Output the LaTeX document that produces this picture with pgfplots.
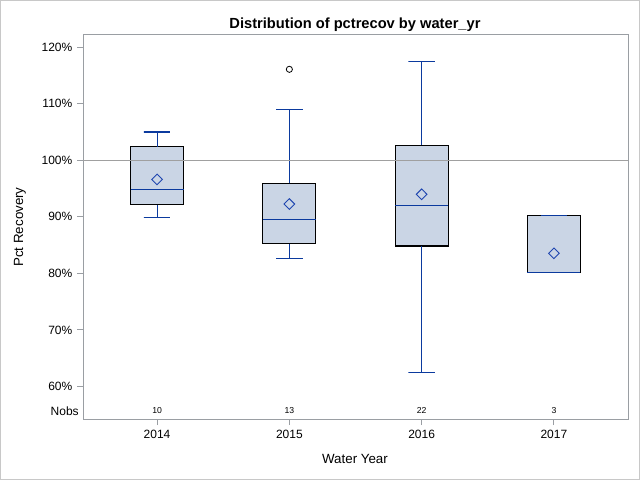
\documentclass[border=0pt]{standalone}
\usepackage{fontspec}
\setmainfont{Liberation Sans}
\usepackage{pgfplots}
\pgfplotsset{compat=1.18}

\definecolor{boxfill}{HTML}{CAD5E5}
\definecolor{whiskblue}{HTML}{0B3A9E}
\definecolor{meanblue}{HTML}{1F46B0}
\definecolor{axisgray}{HTML}{9A9EA3}
\definecolor{refgray}{HTML}{A0A0A0}
\definecolor{framegray}{HTML}{C8C8C8}

\pgfplotsset{
  box/.style={color=black, fill=boxfill, line width=0.8pt, mark=none},
  whisk/.style={color=whiskblue, line width=0.8pt, mark=none},
}

\begin{document}
\begin{tikzpicture}
\useasboundingbox (0,0) rectangle (480pt,360pt);
\draw[framegray, line width=0.75pt] (0.4pt,0.4pt) rectangle (479.6pt,359.6pt);

\begin{axis}[
  at={(62.25pt,45.75pt)}, anchor=south west,
  scale only axis, width=408.75pt, height=288.75pt,
  xmin=-0.56, xmax=3.56, ymin=54.26, ymax=122.3,
  xtick={0,1,2,3}, xticklabels={2014,2015,2016,2017},
  ytick={60,70,...,120},
  yticklabel={\pgfmathprintnumber{\tick}\%},
  tick pos=left, tick align=outside, major tick length=4.5pt,
  axis line style={axisgray, line width=0.75pt},
  tick style={axisgray, line width=0.75pt},
  ticklabel style={font=\fontsize{9}{10}\selectfont, text=black},
  /pgf/number format/assume math mode=true,
  clip=false,
]

% 2014: whiskers 89.95 / 104.98, quartiles 92.1 / 102.4, median 94.85
\addplot[box] coordinates {(-0.2,92.1) (0.2,92.1) (0.2,102.4) (-0.2,102.4) (-0.2,92.1)};
\addplot[whisk] coordinates {(-0.2,94.85) (0.2,94.85)};
\addplot[whisk] coordinates {(0,102.4) (0,104.98) (-0.1,104.98) (0.1,104.98)};
\addplot[whisk] coordinates {(0,92.1) (0,89.95) (-0.1,89.95) (0.1,89.95)};

% 2015: whiskers 82.65 / 108.99, quartiles 85.2 / 95.9, median 89.55
\addplot[box] coordinates {(0.8,85.2) (1.2,85.2) (1.2,95.9) (0.8,95.9) (0.8,85.2)};
\addplot[whisk] coordinates {(0.8,89.55) (1.2,89.55)};
\addplot[whisk] coordinates {(1,95.9) (1,108.99) (0.9,108.99) (1.1,108.99)};
\addplot[whisk] coordinates {(1,85.2) (1,82.65) (0.9,82.65) (1.1,82.65)};

% 2016: whiskers 62.5 / 117.5, quartiles 84.83 / 102.6, median 92.07
\addplot[box] coordinates {(1.8,84.83) (2.2,84.83) (2.2,102.6) (1.8,102.6) (1.8,84.83)};
\addplot[whisk] coordinates {(1.8,92.07) (2.2,92.07)};
\addplot[whisk] coordinates {(2,102.6) (2,117.5) (1.9,117.5) (2.1,117.5)};
\addplot[whisk] coordinates {(2,84.83) (2,62.5) (1.9,62.5) (2.1,62.5)};

% 2017: whiskers 80.18 / 90.25, quartiles 80.18 / 90.25, median 80.18
\addplot[box] coordinates {(2.8,80.18) (3.2,80.18) (3.2,90.25) (2.8,90.25) (2.8,80.18)};
\addplot[whisk] coordinates {(2.8,80.18) (3.2,80.18)};
\addplot[whisk] coordinates {(2.9,90.25) (3.1,90.25)};

% outlier
\addplot[only marks, mark=o, mark size=2.3pt, mark options={draw=black, line width=0.6pt}]
  coordinates {(1,116.06)};

% means
\addplot[only marks, mark=diamond, mark size=4pt,
  mark options={draw=meanblue, fill=none, xscale=1.33, line width=0.7pt}]
  coordinates {(0,96.6) (1,92.25) (2,93.97) (3,83.54)};

% reference line at 100%
\addplot[refgray, line width=0.75pt] coordinates {(-0.56,100) (3.56,100)};

% Nobs row
\node[font=\fontsize{6.5}{7}\selectfont] at (axis cs:0,55.7) {10};
\node[font=\fontsize{6.5}{7}\selectfont] at (axis cs:1,55.7) {13};
\node[font=\fontsize{6.5}{7}\selectfont] at (axis cs:2,55.7) {22};
\node[font=\fontsize{6.5}{7}\selectfont] at (axis cs:3,55.7) {3};
\node[font=\fontsize{9}{10}\selectfont, anchor=east, inner sep=0pt, xshift=-3pt]
  at (axis cs:-0.56,55.7) {Nobs};
\end{axis}

\node[font=\fontsize{11}{13}\selectfont\bfseries] at (266.25pt,341.6pt)
  {Distribution of pctrecov by water\_yr};
\node[font=\fontsize{10}{12}\selectfont] at (266.25pt,15.75pt) {Water Year};
\node[font=\fontsize{10}{12}\selectfont, rotate=90] at (15pt,189.75pt) {Pct Recovery};
\end{tikzpicture}
\end{document}
